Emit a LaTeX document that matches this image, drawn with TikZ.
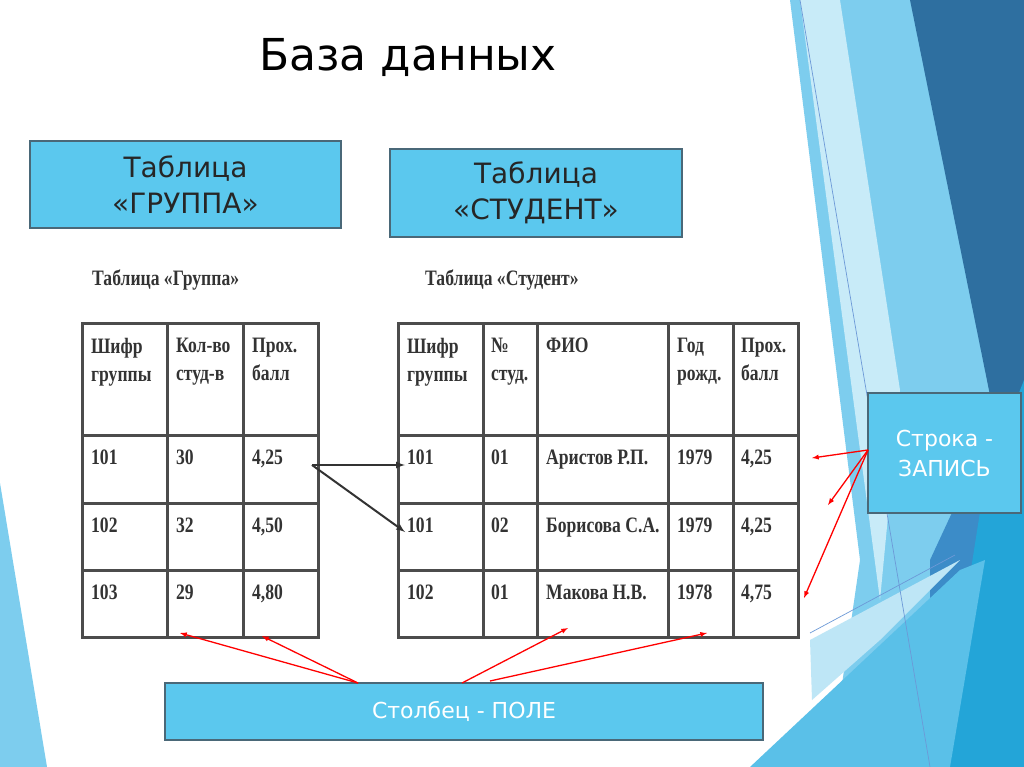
\documentclass[tikz,border=0pt]{standalone}
\usepackage{fontspec}
\setmainfont{DejaVu Sans}
\newfontfamily\tabfont{Liberation Serif}
\begin{document}
\begin{tikzpicture}[x=1pt,y=-1pt,
  bluebox/.style={draw=black!60!cyan,line width=1.5pt,fill=boxblue,align=center,font=\fontsize{28}{36}\selectfont,text=black!85},
  cell/.style={anchor=north west,align=left,font=\tabfont\bfseries\fontsize{22}{28}\selectfont,inner sep=0pt,xscale=0.8,text=black!80},
  redar/.style={red,line width=1.3pt,-latex},
  tline/.style={line width=3pt,black!70}]
\definecolor{boxblue}{HTML}{5BC8EE}
\useasboundingbox (0,0) rectangle (1024,767);
\fill[white] (0,0) rectangle (1024,767);
% decoration right
\fill[fill={rgb,255:red,125;green,205;blue,238}] (790,0) -- (912,0) -- (1000,430) -- (900,767) -- (830,767) -- (860,560) -- cycle;
\fill[fill={rgb,255:red,200;green,235;blue,248}] (800,0) -- (840,0) -- (900,390) -- (880,600) -- cycle;
\fill[fill={rgb,255:red,46;green,111;blue,160}] (910,0) -- (1024,0) -- (1024,767) -- (975,767) -- (995,420) -- cycle;
\fill[fill={rgb,255:red,60;green,140;blue,200}] (930,560) -- (995,420) -- (1000,767) -- (930,767) -- cycle;
\fill[fill={rgb,255:red,35;green,165;blue,216}] (1024,380) -- (1024,767) -- (940,767) -- (985,480) -- cycle;
\fill[fill={rgb,255:red,90;green,192;blue,232}] (750,767) -- (960,570) -- (985,560) -- (950,767) -- cycle;
\fill[fill={rgb,255:red,190;green,230;blue,246}] (810,640) -- (960,560) -- (880,640) -- (812,700) -- cycle;
\draw[cyan!50!blue!60,line width=0.7pt] (800,0) -- (930,767);
\draw[cyan!50!blue!60,line width=0.7pt] (810,633) -- (955,555);
% left triangle
\fill[fill={rgb,255:red,125;green,205;blue,238}] (0,483) -- (47,767) -- (0,767) -- cycle;
% title
\node (title) at (408,58) {\fontsize{44}{50}\selectfont База данных};
% boxes
\node[bluebox,minimum width=311pt,minimum height=87pt] (bg) at (185.5,184.5) {Таблица\\«ГРУППА»};
\node[bluebox,minimum width=292pt,minimum height=88pt] (bs) at (536,193) {Таблица\\«СТУДЕНТ»};
\node[bluebox,minimum width=153pt,minimum height=120pt,font=\fontsize{22}{30}\selectfont,text=white] (br) at (944.5,453) {Строка -\\ЗАПИСЬ};
\node[bluebox,minimum width=598pt,minimum height=57pt,font=\fontsize{22}{28}\selectfont,text=white] (bc) at (464,711.5) {Столбец - ПОЛЕ};
% table group
\node[cell] (tg) at (92,270) {Таблица «Группа»};
\draw[tline] (82,323) rectangle (318,637);
\foreach \y in {435,503,570} \draw[tline] (82,\y) -- (318,\y);
\foreach \x in {167,243} \draw[tline] (\x,323) -- (\x,637);
\node[cell] (g11) at (91,338) {Шифр\\группы};
\node[cell] (g12) at (176,338) {Кол-во\\студ-в};
\node[cell] (g13) at (252,338) {Прох.\\балл};
\node[cell] (g21) at (91,450) {101};
\node[cell] (g22) at (176,450) {30};
\node[cell] (g23) at (252,450) {4,25};
\node[cell] (g31) at (91,518) {102};
\node[cell] (g32) at (176,518) {32};
\node[cell] (g33) at (252,518) {4,50};
\node[cell] (g41) at (91,585) {103};
\node[cell] (g42) at (176,585) {29};
\node[cell] (g43) at (252,585) {4,80};
% table student
\node[cell] (ts) at (425,270) {Таблица «Студент»};
\draw[tline] (398,323) rectangle (798,637);
\foreach \y in {435,503,570} \draw[tline] (398,\y) -- (798,\y);
\foreach \x in {483,537,668,733} \draw[tline] (\x,323) -- (\x,637);
\node[cell] (s11) at (407,338) {Шифр\\группы};
\node[cell] (s12) at (491,338) {№\\студ.};
\node[cell] (s13) at (546,338) {ФИО};
\node[cell] (s14) at (677,338) {Год\\рожд.};
\node[cell] (s15) at (741,338) {Прох.\\балл};
\node[cell] (s21) at (407,450) {101};
\node[cell] (s22) at (491,450) {01};
\node[cell] (s23) at (546,450) {Аристов Р.П.};
\node[cell] (s24) at (677,450) {1979};
\node[cell] (s25) at (741,450) {4,25};
\node[cell] (s31) at (407,518) {101};
\node[cell] (s32) at (491,518) {02};
\node[cell] (s33) at (546,518) {Борисова С.А.};
\node[cell] (s34) at (677,518) {1979};
\node[cell] (s35) at (741,518) {4,25};
\node[cell] (s41) at (407,585) {102};
\node[cell] (s42) at (491,585) {01};
\node[cell] (s43) at (546,585) {Макова Н.В.};
\node[cell] (s44) at (677,585) {1978};
\node[cell] (s45) at (741,585) {4,75};
% black arrows
\coordinate (a0) at (312,465);
\coordinate (a1) at (405,465);
\coordinate (a2) at (405,532);
\draw[black!80,line width=2pt,-latex] (a0) -- (a1);
\draw[black!80,line width=2pt,-latex] (a0) -- (a2);
% red arrows
\coordinate (r0) at (868,450);
\coordinate (c0) at (358,683);
\coordinate (c1) at (462,683);
\coordinate (c2) at (490,681);
\draw[redar] (r0) -- (812,458);
\draw[redar] (r0) -- (828,505);
\draw[redar] (r0) -- (804,598);
\draw[redar] (c0) -- (180,633);
\draw[redar] (c0) -- (262,636);
\draw[redar] (c1) -- (568,628);
\draw[redar] (c2) -- (707,633);
\end{tikzpicture}
\end{document}
